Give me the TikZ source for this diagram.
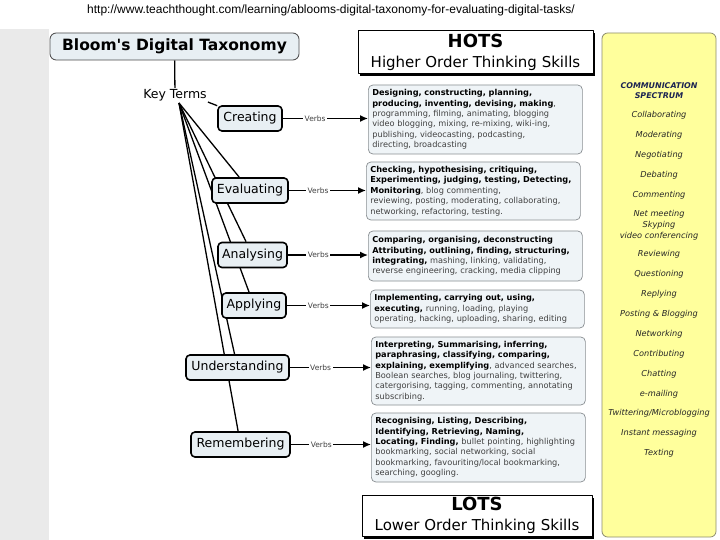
\documentclass[tikz,border=0pt]{standalone}
\usepackage{fontspec}
\setmainfont{DejaVu Sans}[Ligatures=TeXOff]
\newfontfamily\urlfont{Liberation Sans}
\usetikzlibrary{arrows.meta,positioning,calc,shadows}
\definecolor{panelgray}{HTML}{EAEAEA}
\definecolor{boxblue}{HTML}{E8EFF3}
\definecolor{verbfill}{HTML}{EFF4F7}
\definecolor{verbedge}{HTML}{8A8F93}
\definecolor{spectrum}{HTML}{FFFF9C}
\definecolor{spectrumedge}{HTML}{8C8C70}
\definecolor{ink}{HTML}{404040}
\definecolor{deepnavy}{HTML}{1C2452}
\pgfdeclarelayer{bg}
\pgfsetlayers{bg,main}
\newcommand\kw[1]{{\color{black}\bfseries #1}}
\tikzset{
    every picture/.style={line cap=round,line join=round},
    titlebox/.style={draw=black!70,fill=boxblue,line width=0.8pt,rounded corners=2.2mm,
      inner sep=2pt,font=\fontsize{15.5}{18}\selectfont\bfseries},
    levelbox/.style={draw=black,fill=boxblue,line width=1.6pt,rounded corners=1.4mm,
      minimum height=25pt,inner xsep=3pt,inner ysep=2pt,font=\fontsize{12.5}{14}\selectfont},
    verbbox/.style={draw=verbedge,fill=verbfill,line width=0.7pt,rounded corners=1.6mm,
      inner xsep=4pt,text width=206pt,align=left,text=ink,
      font=\fontsize{8.2}{10.4}\selectfont},
    skillbox/.style={draw=black,fill=white,line width=0.8pt,align=center,inner sep=2pt,
      font=\fontsize{15}{20}\selectfont,
      drop shadow={shadow xshift=2pt,shadow yshift=-2.5pt,fill=black,opacity=1}},
    specbox/.style={draw=spectrumedge,fill=spectrum,line width=0.8pt,rounded corners=2mm},
    spechead/.style={font=\fontsize{7.9}{10}\selectfont\bfseries\itshape,text=deepnavy,align=center},
    spectext/.style={font=\fontsize{8.2}{11}\selectfont\itshape,text=black!85,align=center},
    spoke/.style={draw=black,line width=1.3pt},
    verbarrow/.style={-{Latex[length=8pt,width=7pt]},line width=1.4pt},
    verblabel/.style={fill=white,inner sep=1.5pt,text=ink,font=\fontsize{7.5}{9}\selectfont}
}

\begin{document}
\begin{tikzpicture}[x=1pt,y=-1pt]
  \useasboundingbox (0,0) rectangle (720,540);
  \begin{pgfonlayer}{bg}
    \fill[panelgray] (0,29) rectangle (720,540);
    \fill[white] (49,29) rectangle (720,540);
  \end{pgfonlayer}

  \node[font=\urlfont\fontsize{12}{14}\selectfont] (url) at (331,10)
    {http://www.teachthought.com/learning/ablooms-digital-taxonomy-for-evaluating-digital-tasks/};

  % map on the left
  \node[titlebox,minimum width=249pt,minimum height=27pt] (title) at (174.5,46.5) {Bloom's Digital Taxonomy};
  \node[font=\fontsize{12.5}{14}\selectfont,inner sep=1pt] (keyterms) at (175,95) {Key Terms};
  \coordinate (kt) at (179,103);

  \node[levelbox,minimum width=64pt] (create) at (250,118.5) {Creating};
  \node[levelbox,minimum width=76pt] (evaluate) at (250,190.5) {Evaluating};
  \node[levelbox,minimum width=69pt] (analyse) at (252.5,255) {Analysing};
  \node[levelbox,minimum width=64pt] (apply) at (254,305.5) {Applying};
  \node[levelbox,minimum width=103pt] (understand) at (237.5,367.5) {Understanding};
  \node[levelbox,minimum width=99pt] (remember) at (240.5,444.5) {Remembering};

  % verb lists
  \node[verbbox,minimum height=69pt,anchor=west] (vcreate) at (368,119.5)
    {\kw{Designing, constructing, planning,}\\
     \kw{producing, inventing, devising, making},\\
     programming, filming, animating, blogging\\
     video blogging, mixing, re-mixing, wiki-ing,\\
     publishing, videocasting, podcasting,\\
     directing, broadcasting};
  \node[verbbox,minimum height=58pt,anchor=west] (vevaluate) at (366,191)
    {\kw{Checking, hypothesising, critiquing,}\\
     \kw{Experimenting, judging, testing, Detecting,}\\
     \kw{Monitoring}, blog commenting,\\
     reviewing, posting, moderating, collaborating,\\
     networking, refactoring, testing.};
  \node[verbbox,minimum height=50pt,anchor=west] (vanalyse) at (368,256)
    {\kw{Comparing, organising, deconstructing}\\
     \kw{Attributing, outlining, finding, structuring,}\\
     \kw{integrating,} mashing, linking, validating,\\
     reverse engineering, cracking, media clipping};
  \node[verbbox,minimum height=38pt,anchor=west] (vapply) at (370,309)
    {\kw{Implementing, carrying out, using,}\\
     \kw{executing,} running, loading, playing\\
     operating, hacking, uploading, sharing, editing};
  \node[verbbox,minimum height=68pt,anchor=west] (vunderstand) at (371,371)
    {\kw{Interpreting, Summarising, inferring,}\\
     \kw{paraphrasing, classifying, comparing,}\\
     \kw{explaining, exemplifying}, advanced searches,\\
     Boolean searches, blog journaling, twittering,\\
     catergorising, tagging, commenting, annotating\\
     subscribing.};
  \node[verbbox,minimum height=69pt,anchor=west] (vremember) at (371,447.5)
    {\kw{Recognising, Listing, Describing,}\\
     \kw{Identifying, Retrieving, Naming,}\\
     \kw{Locating, Finding,} bullet pointing, highlighting\\
     bookmarking, social networking, social\\
     bookmarking, favouriting/local bookmarking,\\
     searching, googling.};

  \foreach \lvl in {create,evaluate,analyse,apply,understand,remember}
    \draw[verbarrow] (\lvl.east) -- node[verblabel,pos=0.38] {Verbs} (\lvl.east -| v\lvl.west);

  \begin{pgfonlayer}{bg}
    \draw[spoke] (title) -- (keyterms);
    \draw[spoke] (keyterms.south east) -- (create);
    \foreach \lvl in {evaluate,analyse,apply,understand,remember}
      \draw[spoke] (kt) -- (\lvl);
  \end{pgfonlayer}

  % HOTS / LOTS
  \node[skillbox,minimum width=235pt,minimum height=43pt] (hots) at (475.5,52)
    {{\fontsize{18}{20}\selectfont\bfseries HOTS}\\Higher Order Thinking Skills};
  \node[skillbox,minimum width=230pt,minimum height=41pt] (lots) at (477,515.5)
    {{\fontsize{18}{20}\selectfont\bfseries LOTS}\\Lower Order Thinking Skills};

  % communication spectrum
  \node[specbox,minimum width=114pt,minimum height=504pt] (spectrum) at (659,285) {};
  \node[spechead] (spectitle) at (659,91) {COMMUNICATION\\SPECTRUM};
  \foreach \y/\t [count=\i] in {115/Collaborating,135/Moderating,155/Negotiating,175/Debating,
      195/Commenting,225/{Net meeting\\Skyping\\video conferencing},254/Reviewing,274/Questioning,
      294/Replying,314/Posting \& Blogging,334/Networking,354/Contributing,374/Chatting,
      394/e-mailing,413/{Twittering/Microblogging},433/Instant messaging,453/Texting}
    \node[spectext] (spec\i) at (659,\y) {\t};
\end{tikzpicture}
\end{document}
